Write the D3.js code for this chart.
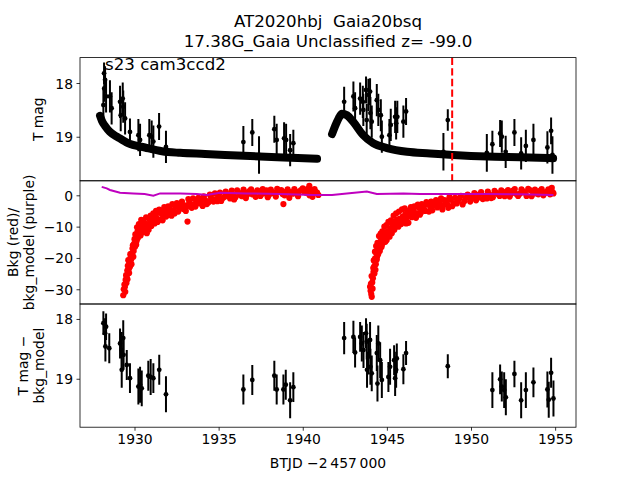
<!DOCTYPE html>
<html><head><meta charset="utf-8">
<script src="https://cdn.jsdelivr.net/npm/d3@7"></script>
<style>
body{margin:0;background:#fff;}
svg{font-family:"DejaVu Sans",sans-serif;}
text{white-space:pre;}
</style></head><body><svg id="c" width="640" height="480"></svg>
<script>
// ---------- DATA ----------
const titleLines = ["AT2020hbj  Gaia20bsq", "17.38G_Gaia Unclassified z= -99.0"];
const annot = "s23 cam3ccd2";
const xTicks = [1930, 1935, 1940, 1945, 1950, 1955];
const topTicks = [18, 19];
const midTicks = [0, -10, -20, -30];
const botTicks = [18, 19];
const eventTime = 1948.88;

// dense T-mag model band
const bandTime1 = [1927.95,1928.07,1928.25,1928.54,1929.02,1929.61,1930.62,1931.63,1932.71,1934.19,1936.87,1939.25,1940.85];
const bandMag1  = [18.61,18.71,18.80,18.91,19.01,19.12,19.20,19.27,19.30,19.32,19.36,19.39,19.41];
const bandTime2 = [1941.74,1941.98,1942.20,1942.32,1942.63,1942.99,1943.59,1944.18,1945.01,1946.20,1947.57,1948.94,1950.96,1952.92,1954.88];
const bandMag2  = [18.95,18.76,18.62,18.57,18.60,18.72,18.97,19.12,19.21,19.28,19.31,19.34,19.37,19.38,19.40];

// T mag points with errors (top panel)
const topTime = [1928.19,1928.25,1928.20,1928.31,1928.15,1928.54,1928.64,1929.14,1929.30,1929.33,1929.18,1929.44,1929.73,1930.23,1930.33,1930.88,1931.02,1931.12,1931.46,1931.87,1936.47,1937.00,1937.40,1938.31,1938.45,1938.89,1939.01,1939.25,1939.44,
  1942.46,1943.01,1943.11,1943.41,1943.57,1943.76,1943.90,1944.00,1943.60,1944.02,1944.10,1943.80,1944.40,1944.49,1944.64,1944.70,1945.15,1945.23,1945.49,1945.55,1945.62,1945.98,1946.14,1948.36,1948.62,1950.94,1951.27,1951.73,1951.83,1952.06,1952.58,1952.98,1953.26,1953.71,1954.54,1954.76,1954.84];
const topMag = [17.82,17.94,18.10,18.25,18.41,18.25,18.47,18.35,18.29,18.44,18.60,18.66,18.91,18.97,19.06,18.97,19.00,19.09,18.81,19.19,19.10,18.92,19.34,18.86,19.06,19.03,19.06,19.25,19.12,
  18.35,18.25,18.47,18.29,18.35,18.13,18.22,18.16,18.50,18.56,18.72,18.69,18.32,18.50,18.60,19.00,18.97,18.78,18.63,18.75,18.63,18.72,18.53,19.28,18.69,19.30,19.14,18.94,19.00,19.28,18.92,19.31,19.17,19.06,19.20,18.89,19.34];
const topErr = [0.20,0.25,0.25,0.30,0.30,0.30,0.30,0.30,0.30,0.30,0.30,0.30,0.25,0.30,0.30,0.30,0.30,0.30,0.25,0.30,0.30,0.25,0.35,0.25,0.30,0.30,0.30,0.30,0.25,
  0.28,0.28,0.30,0.30,0.30,0.25,0.30,0.25,0.30,0.30,0.30,0.30,0.30,0.30,0.30,0.30,0.30,0.30,0.30,0.30,0.30,0.30,0.25,0.35,0.20,0.35,0.25,0.25,0.30,0.30,0.25,0.30,0.30,0.30,0.30,0.25,0.35];

// background (red points), first pass
const bkgTime = [1929.33,1929.36,1929.40,1929.43,1929.47,1929.50,1929.54,1929.57,1929.60,1929.63,1929.66,1929.70,1929.73,1929.77,1929.80,1929.84,1929.88,1929.93,1929.97,1930.03,1930.08,1930.13,1930.18,1930.23,1930.30,1930.36,1930.43,1930.50,1930.57,1930.65,1930.73,1930.80,1930.86,1930.92,1931.00,1931.08,1931.16,1931.24,1931.32,1931.42,1931.52,1931.62,1931.71,1931.82,1931.95,1932.08,1932.20,1932.31,1932.45,1932.60,1932.75,1932.90,1933.10,1933.15,1933.25,1933.40,1933.55,1933.70,1933.89,1934.05,1934.20,1934.40,1934.55,1934.69,1934.85,1935.00,1935.15,1935.35,1935.50,1935.68,1935.85,1936.00,1936.20,1936.40,1936.55,1936.67,1936.85,1937.00,1937.20,1937.40,1937.55,1937.66,1937.85,1938.00,1938.20,1938.40,1938.55,1938.65,1938.80,1938.85,1939.00,1939.20,1939.40,1939.64,1939.80,1940.00,1940.20,1940.39,1940.40,1940.63,1940.75,1940.93,
  1944.00,1944.03,1944.07,1944.10,1944.13,1944.17,1944.20,1944.24,1944.27,1944.30,1944.34,1944.38,1944.42,1944.46,1944.50,1944.55,1944.60,1944.65,1944.70,1944.76,1944.82,1944.88,1944.94,1944.99,1945.05,1945.12,1945.20,1945.29,1945.36,1945.44,1945.51,1945.59,1945.68,1945.76,1945.85,1945.94,1946.03,1946.10,1946.18,1946.28,1946.38,1946.48,1946.58,1946.68,1946.78,1946.90,1947.02,1947.15,1947.28,1947.42,1947.57,1947.70,1947.85,1948.00,1948.15,1948.36,1948.50,1948.65,1948.80,1948.95,1949.15,1949.30,1949.50,1949.70,1949.95,1950.10,1950.30,1950.50,1950.70,1950.94,1951.10,1951.30,1951.50,1951.70,1951.93,1952.10,1952.30,1952.50,1952.70,1952.92,1953.10,1953.30,1953.50,1953.70,1953.91,1954.10,1954.30,1954.50,1954.70,1954.80,1954.90];
const bkgValue = [-31.9,-30.0,-28.5,-29.2,-27.0,-25.5,-26.0,-24.0,-22.5,-20.7,-23.5,-21.5,-22.8,-19.8,-20.5,-18.5,-17.0,-19.6,-15.5,-16.4,-13.5,-14.5,-11.5,-12.1,-10.5,-12.8,-8.9,-10.0,-11.2,-9.0,-12.1,-10.2,-7.5,-8.9,-9.8,-7.0,-8.4,-6.2,-7.3,-5.5,-7.8,-6.0,-6.3,-4.8,-5.9,-4.2,-6.5,-4.7,-3.5,-5.2,-3.0,-4.4,-3.6,-8.4,-2.4,-4.0,-2.8,-1.9,-2.6,-3.4,-1.5,-2.2,-0.8,-2.0,-1.2,-0.2,-1.8,-0.5,0.4,-1.0,0.2,-0.6,0.8,-0.3,1.0,0.1,1.4,0.3,-0.5,1.2,0.5,0.6,1.6,0.2,1.0,-0.4,1.5,1.2,0.4,-2.8,1.1,-0.8,0.5,0.6,1.3,2.2,0.8,3.0,0.0,0.6,1.2,0.1,
  -29.2,-30.5,-31.5,-32.4,-27.8,-26.5,-24.5,-22.8,-21.0,-20.1,-22.0,-18.5,-19.5,-17.0,-17.5,-15.5,-16.8,-14.5,-15.9,-13.8,-15.0,-12.5,-13.5,-14.3,-11.5,-12.8,-10.5,-12.1,-9.5,-11.0,-8.2,-8.9,-10.0,-7.5,-9.2,-6.8,-8.5,-6.0,-7.3,-8.8,-5.5,-7.0,-4.8,-6.5,-5.8,-4.0,-5.6,-3.8,-5.0,-2.8,-3.6,-4.8,-2.5,-3.9,-1.8,-3.1,-2.0,-4.0,-1.4,-2.6,-2.6,-1.0,-2.9,-0.8,-2.0,-0.5,-1.6,0.3,-1.2,-1.0,0.2,-0.6,0.8,-0.2,0.1,1.2,-0.4,1.5,0.4,0.6,1.3,-0.2,1.7,0.6,0.6,1.4,0.0,1.2,0.3,2.4,0.6];

// background (red points), second pass (more of the dense cloud)
const bkgTimeB = [1929.45,1929.52,1929.58,1929.68,1929.75,1929.82,1929.90,1929.95,1930.00,1930.05,1930.10,1930.15,1930.20,1930.26,1930.33,1930.40,1930.46,1930.53,1930.61,1930.69,1930.76,1930.84,1930.96,1931.04,1931.12,1931.20,1931.28,1931.37,1931.47,1931.57,1931.67,1931.77,1931.88,1932.00,1932.14,1932.25,1932.38,1932.52,1932.68,1932.82,1932.97,1933.05,1933.20,1933.32,1933.48,1933.62,1933.80,1933.97,1934.12,1934.30,1934.48,1934.62,1934.78,1934.92,1935.08,1935.25,1935.42,1935.60,1935.78,1935.92,1936.10,1936.30,1936.48,1936.62,1936.78,1936.93,1937.10,1937.30,1937.48,1937.62,1937.75,1937.92,1938.10,1938.30,1938.48,1938.72,1938.92,1939.10,1939.30,1939.50,1939.72,1939.90,1940.10,1940.30,1940.50,1940.58,1940.70,1940.85,
  1944.05,1944.09,1944.15,1944.19,1944.22,1944.26,1944.29,1944.32,1944.36,1944.40,1944.44,1944.48,1944.53,1944.58,1944.63,1944.68,1944.73,1944.79,1944.85,1944.91,1944.97,1945.02,1945.09,1945.16,1945.24,1945.32,1945.40,1945.48,1945.55,1945.63,1945.72,1945.80,1945.90,1945.98,1946.06,1946.14,1946.23,1946.33,1946.43,1946.53,1946.63,1946.73,1946.84,1946.96,1947.08,1947.22,1947.35,1947.50,1947.63,1947.78,1947.92,1948.08,1948.22,1948.30,1948.43,1948.58,1948.72,1948.88,1949.05,1949.22,1949.40,1949.60,1949.80,1950.00,1950.20,1950.40,1950.60,1950.80,1951.00,1951.20,1951.40,1951.60,1951.80,1952.00,1952.20,1952.40,1952.60,1952.80,1953.00,1953.20,1953.40,1953.60,1953.80,1954.00,1954.20,1954.40,1954.60,1954.85];
const bkgValueB = [-30.8,-28.0,-26.8,-24.8,-18.8,-22.0,-16.0,-17.8,-14.0,-12.5,-15.8,-10.2,-13.6,-9.2,-11.0,-7.8,-11.8,-8.2,-10.8,-7.0,-9.5,-11.0,-6.5,-8.0,-5.8,-9.0,-5.0,-8.5,-4.6,-5.3,-8.0,-3.8,-6.8,-3.5,-5.5,-2.8,-5.8,-2.5,-4.0,-2.0,-3.2,-5.0,-1.2,-3.0,-1.0,-3.6,-0.8,-1.8,-0.3,-2.8,0.2,-1.5,0.6,-1.9,0.9,-0.9,1.2,-0.2,1.5,-1.3,1.6,0.0,1.8,-0.9,0.6,1.9,0.9,1.6,-0.2,2.0,0.9,-0.6,1.8,0.6,2.1,1.7,0.0,1.9,1.0,2.0,-0.3,1.7,1.1,2.1,1.6,-0.5,2.0,0.9,
  -28.3,-25.8,-29.8,-23.2,-20.8,-25.0,-18.0,-23.8,-16.2,-20.5,-15.2,-18.8,-13.0,-17.8,-12.2,-16.5,-11.5,-14.0,-10.0,-14.8,-9.5,-12.8,-8.5,-13.2,-8.0,-10.8,-6.5,-9.6,-5.8,-7.8,-5.2,-8.0,-4.5,-7.0,-4.2,-9.0,-5.0,-6.5,-3.8,-6.2,-3.5,-7.2,-3.0,-6.2,-2.8,-4.5,-2.2,-5.2,-2.0,-3.2,-1.5,-3.0,-1.0,-4.5,-1.5,-2.8,-0.6,-3.5,-0.8,-1.8,-0.2,-1.9,0.2,-1.0,0.7,-0.8,1.0,-0.3,1.2,-0.9,1.4,0.4,1.6,-0.3,1.7,0.6,2.0,-0.2,1.9,0.9,2.1,-0.3,1.8,0.3,2.0,0.8,1.9,1.0];

// background model (purple line)
const modelTime  = [1928.05,1928.35,1928.54,1929.14,1929.93,1930.60,1931.12,1931.52,1932.71,1933.70,1934.29,1935.08,1936.67,1938.65,1940.63,1941.74,1942.62,1943.81,1944.40,1945.98,1946.97,1948.95,1950.94,1952.92,1954.90];
const modelValue = [2.7,2.2,1.7,0.8,0.6,0.4,-0.1,0.6,0.6,0.4,0.1,0.8,0.6,0.4,0.1,0.1,0.6,1.2,0.4,0.6,0.4,0.4,0.4,0.3,0.1];

// T mag - bkg_model (bottom panel)
const botTime = [1928.15,1928.31,1928.25,1928.27,1928.50,1929.14,1929.33,1929.24,1929.35,1929.24,1929.54,1929.73,1930.23,1930.43,1930.33,1930.82,1930.96,1931.12,1931.47,1931.87,1936.47,1937.00,1938.31,1938.45,1938.85,1938.99,1939.25,1939.44,
  1942.46,1943.01,1943.11,1943.41,1943.51,1943.61,1943.76,1943.80,1943.90,1944.00,1944.02,1944.10,1943.82,1944.40,1944.49,1944.44,1944.60,1944.70,1945.09,1945.19,1945.43,1945.49,1945.55,1945.59,1945.98,1946.14,1948.62,1951.27,1951.73,1951.83,1951.97,1952.07,1952.58,1952.98,1953.26,1953.71,1954.54,1954.62,1954.76,1954.90];
const botMag = [18.07,18.13,18.24,18.46,18.49,18.41,18.32,18.52,18.60,18.85,18.77,18.99,19.13,19.16,19.10,18.95,18.97,18.99,18.85,19.26,19.18,19.02,18.95,19.18,19.18,19.10,19.36,19.14,
  18.32,18.30,18.56,18.30,18.41,18.52,18.24,18.38,18.63,18.35,18.80,18.91,18.85,18.57,18.41,19.08,18.69,19.02,18.97,18.80,18.69,18.99,18.85,18.66,18.84,18.57,18.79,19.19,19.01,19.13,19.19,19.31,18.92,19.36,19.19,19.06,19.18,19.35,18.90,19.33];
const botErr = [0.20,0.22,0.25,0.25,0.25,0.25,0.30,0.30,0.25,0.30,0.25,0.25,0.30,0.30,0.30,0.25,0.30,0.25,0.25,0.30,0.25,0.25,0.25,0.25,0.25,0.25,0.30,0.25,
  0.27,0.27,0.25,0.25,0.30,0.30,0.25,0.30,0.30,0.30,0.30,0.30,0.30,0.30,0.30,0.30,0.30,0.30,0.25,0.30,0.25,0.30,0.30,0.25,0.25,0.20,0.20,0.30,0.25,0.25,0.30,0.30,0.22,0.30,0.30,0.25,0.30,0.30,0.25,0.30];

// ---------- DRAW ----------
const svg = d3.select("#c");
const L = 80, R = 576;
const P = [[57.6,180.8],[180.8,304],[304,427.2]];
const x = d3.scaleLinear().domain([1926.76,1956.24]).range([L,R]);
const yTop = d3.scaleLinear().domain([17.527,19.82]).range(P[0]);
const yMid = d3.scaleLinear().domain([4.63,-34.7]).range(P[1]);
const yBot = d3.scaleLinear().domain([17.75,19.81]).range(P[2]);

const defs = svg.append("defs");
P.forEach((p,i)=>{
  defs.append("clipPath").attr("id","clip"+i).append("rect")
    .attr("x",L).attr("y",p[0]).attr("width",R-L).attr("height",p[1]-p[0]);
});
P.forEach(p=>svg.append("rect").attr("x",L).attr("y",p[0]).attr("width",R-L).attr("height",p[1]-p[0]).attr("fill","#fff"));

// --- top panel
const gTop = svg.append("g").attr("clip-path","url(#clip0)");
const bandLine = d3.line().x(d=>x(d[0])).y(d=>yTop(d[1])).curve(d3.curveMonotoneX);
[[bandTime1,bandMag1],[bandTime2,bandMag2]].forEach(([t,m])=>{
  gTop.append("path").datum(t.map((v,i)=>[v,m[i]])).attr("d",bandLine)
    .attr("fill","none").attr("stroke","#000").attr("stroke-width",8)
    .attr("stroke-linecap","round").attr("stroke-linejoin","round");
});
function errorPoints(g, T, M, E, y){
  const d = T.map((t,i)=>({t, m:M[i], e:E[i]}));
  g.selectAll(null).data(d).enter().append("line")
    .attr("x1",d=>x(d.t)).attr("x2",d=>x(d.t))
    .attr("y1",d=>y(d.m-d.e)).attr("y2",d=>y(d.m+d.e))
    .attr("stroke","#000").attr("stroke-width",2);
  g.selectAll(null).data(d).enter().append("circle")
    .attr("cx",d=>x(d.t)).attr("cy",d=>y(d.m)).attr("r",2.4).attr("fill","#000");
}
errorPoints(gTop, topTime, topMag, topErr, yTop);
gTop.append("line").attr("x1",x(eventTime)).attr("x2",x(eventTime))
  .attr("y1",P[0][0]).attr("y2",P[0][1])
  .attr("stroke","#ff0000").attr("stroke-width",2).attr("stroke-dasharray","7.4,3.2");
svg.append("text").attr("x",105).attr("y",70).attr("font-size","16.67px").text(annot);

// --- middle panel
const gMid = svg.append("g").attr("clip-path","url(#clip1)");
const redPts = bkgTime.map((t,i)=>[t,bkgValue[i]]).concat(bkgTimeB.map((t,i)=>[t,bkgValueB[i]]));
gMid.selectAll(null).data(redPts).enter().append("circle")
  .attr("cx",d=>x(d[0])).attr("cy",d=>yMid(d[1])).attr("r",3.1).attr("fill","#ff0000");
gMid.append("path").datum(modelTime.map((t,i)=>[t,modelValue[i]]))
  .attr("d",d3.line().x(d=>x(d[0])).y(d=>yMid(d[1])))
  .attr("fill","none").attr("stroke","#bf00bf").attr("stroke-width",2);

// --- bottom panel
const gBot = svg.append("g").attr("clip-path","url(#clip2)");
errorPoints(gBot, botTime, botMag, botErr, yBot);

// frames
P.forEach(p=>svg.append("rect").attr("x",L).attr("y",p[0]).attr("width",R-L).attr("height",p[1]-p[0])
  .attr("fill","none").attr("stroke","#000").attr("stroke-width",0.8));

// axes
function styleAxis(g){
  g.select(".domain").remove();
  g.selectAll(".tick line").attr("stroke","#000").attr("stroke-width",0.8);
  g.selectAll(".tick text").attr("font-size","13.9px").attr("fill","#000").attr("font-family","DejaVu Sans, sans-serif");
}
[[yTop,topTicks],[yMid,midTicks],[yBot,botTicks]].forEach(([s,tv])=>{
  const g = svg.append("g").attr("transform",`translate(${L},0)`)
    .call(d3.axisLeft(s).tickValues(tv).tickSize(3.5).tickPadding(3.5).tickFormat(d3.format("d")));
  styleAxis(g);
  g.selectAll(".tick text").attr("dy","0.36em");
});
const gx = svg.append("g").attr("transform",`translate(0,${P[2][1]})`)
  .call(d3.axisBottom(x).tickValues(xTicks).tickSize(3.5).tickPadding(3.5).tickFormat(d3.format("d")));
styleAxis(gx);
gx.selectAll(".tick text").attr("dy","0.71em");

// labels
svg.append("text").attr("x",328).attr("y",468).attr("text-anchor","middle").attr("font-size","13.9px").text("BTJD \u22122\u2009457\u2009000");
function ylab(lines, bases, cy){
  lines.forEach((s,i)=>{
    svg.append("text").attr("transform",`translate(${bases[i]},${cy}) rotate(-90)`)
      .attr("text-anchor","middle").attr("font-size","13.9px").text(s);
  });
}
ylab(["T mag"],[43],(P[0][0]+P[0][1])/2);
ylab(["Bkg (red)/","bkg_model (purple)"],[18,34],(P[1][0]+P[1][1])/2);
ylab(["T mag \u2212","bkg_model"],[28,44],(P[2][0]+P[2][1])/2);

// title
titleLines.forEach((s,i)=>{
  svg.append("text").attr("x",328).attr("y",26.7+20*i).attr("text-anchor","middle")
    .attr("font-size","16.67px").text(s);
});
</script></body></html>
